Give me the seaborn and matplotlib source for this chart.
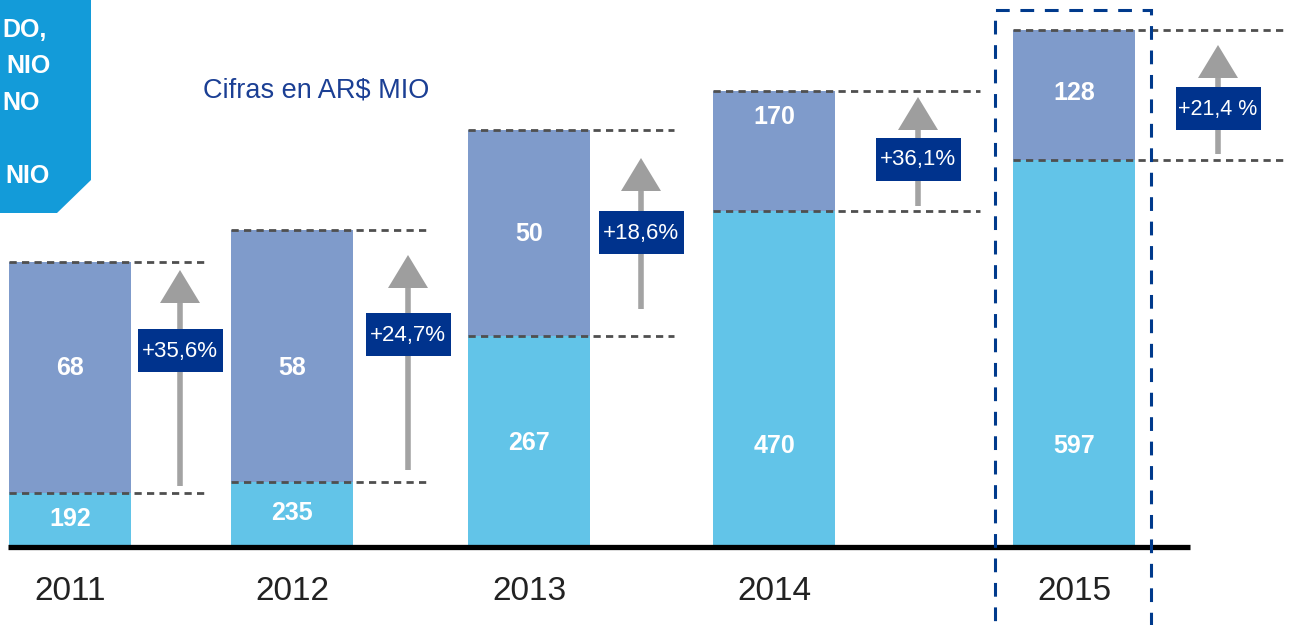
"""
Stacked bars 2011-2015 with growth arrows (Cifras en AR$ MIO).
"""

import pandas as pd
import seaborn as sns
from matplotlib import pyplot as plt
from matplotlib import font_manager
from matplotlib.patches import Rectangle, Polygon

# values shown on the chart
years = ["2011", "2012", "2013", "2014", "2015"]
base_labels = [192, 235, 267, 470, 597]
top_labels = [68, 58, 50, 170, 128]
growth = ["+35,6%", "+24,7%", "+18,6%", "+36,1%", "+21,4 %"]
# segment heights as drawn (the picture is not to scale with its labels)
base_height = [52, 63, 209, 334, 385]
total_height = [283, 315, 415, 454, 515]
# growth arrows, start / end as drawn
arrow_lo = [59, 75, 236, 339, 391]
arrow_hi = [275, 290, 387, 448, 500]

# layout (pixel-like units, baseline at 0)
bar_x = [70, 292, 529, 774, 1074]
arrow_dx = [110, 116, 112, 144, 144]
box_y = [195, 211, 313, 386, 437]
line_end = [208, 430, 674, 980, 1283]
base_lab_y = [26, 32, 102, 99, 99]
top_lab_y = [177, 177, 311, 428, 452]

C_TOP = "#7F9BCB"
C_BASE = "#62C4E8"
C_NAVY = "#00338D"
C_GREY = "#A3A3A3"

sns.set_theme(style="white")
names = {f.name for f in font_manager.fontManager.ttflist}
narrow = "Liberation Sans Narrow" if "Liberation Sans Narrow" in names else "Liberation Sans"
plt.rcParams["font.family"] = [narrow, "DejaVu Sans"]

df = pd.DataFrame(
    {"year": years, "x": bar_x, "base": base_height, "total": total_height}
)

fig = plt.figure(figsize=(12.93, 6.25), dpi=100)
ax = fig.add_axes([0, 0, 1, 1])
sns.barplot(df, x="x", y="total", native_scale=True, width=0.554, color=C_TOP,
            saturation=1, errorbar=None, linewidth=0, ax=ax)
sns.barplot(df, x="x", y="base", native_scale=True, width=0.554, color=C_BASE,
            saturation=1, errorbar=None, linewidth=0, ax=ax)
ax.set_xlim(0, 1293)
ax.set_ylim(-80, 545)
ax.axis("off")

half = 0.554 * 222 / 2
for i, xc in enumerate(bar_x):
    left = xc - half
    for yy in (base_height[i], total_height[i]):
        ax.plot([left, line_end[i]], [yy, yy], color="#4F4F4F", lw=2,
                ls=(0, (2.6, 1.9)), zorder=4)
    ax.text(xc, base_lab_y[i], str(base_labels[i]), color="white",
            fontsize=18, fontweight="bold", ha="center", va="center", zorder=5)
    ax.text(xc, top_lab_y[i], str(top_labels[i]), color="white",
            fontsize=18, fontweight="bold", ha="center", va="center", zorder=5)
    ax.text(xc, -46, years[i], color="#222222", fontsize=24,
            ha="center", va="center")

    # growth arrow
    ax_ = xc + arrow_dx[i]
    head = 33
    ax.plot([ax_, ax_], [arrow_lo[i], arrow_hi[i] - head + 2], color=C_GREY,
            lw=4, solid_capstyle="butt", zorder=3)
    ax.add_patch(Polygon([(ax_ - 20, arrow_hi[i] - head), (ax_ + 20, arrow_hi[i] - head),
                          (ax_, arrow_hi[i])], closed=True, color="#9E9E9E",
                         lw=0, zorder=3))
    ax.add_patch(Rectangle((ax_ - 42.5, box_y[i] - 21.5), 85, 43,
                           facecolor=C_NAVY, edgecolor="none", zorder=6))
    ax.text(ax_, box_y[i] - 1, growth[i], color="white",
            fontsize=15.5 if i == 4 else 16,
            ha="center", va="center", zorder=7)

# baseline
ax.plot([8, 1190], [-2, -2], color="black", lw=3.8, solid_capstyle="butt", zorder=6)

# highlight of the last year
ax.add_patch(Rectangle((995, -90), 156, 625, fill=False, edgecolor="#003A8C",
                       lw=2.2, ls=(0, (4.5, 3.5)), zorder=8))

ax.text(203, 455, "Cifras en AR$ MIO", color="#1B3F94", fontsize=19.5,
        ha="left", va="center")

# title tab, only its right end is visible in the picture
ax.add_patch(Polygon([(0, 545), (91, 545), (91, 365), (57, 332), (0, 332)],
                     closed=True, facecolor="#139BD9", edgecolor="none", zorder=2))
for txt, xl, yy in [("DO,", 2, 515), ("NIO", 6, 479),
                    ("NO", 2, 442), ("NIO", 5, 369)]:
    ax.text(xl, yy, txt, color="white", fontsize=18, fontweight="bold",
            ha="left", va="center", zorder=3)

plt.savefig("out.png", dpi=100)
plt.close()
